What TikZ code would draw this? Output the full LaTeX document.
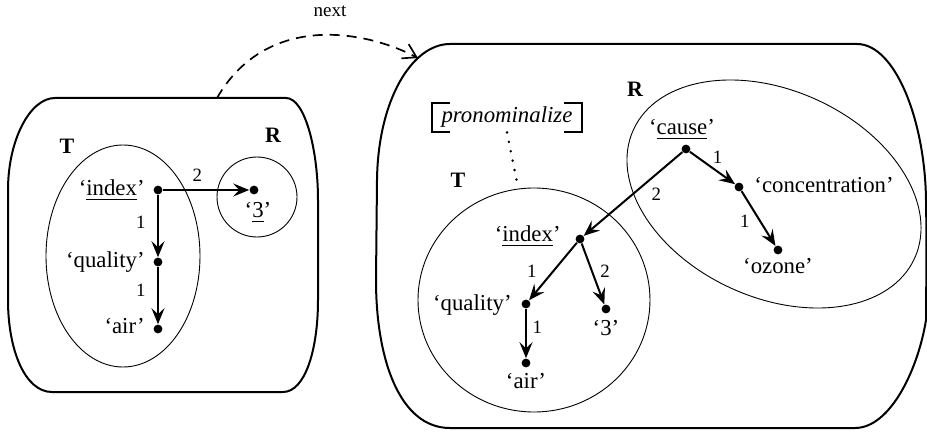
\documentclass[tikz,border=0pt]{standalone}
\usepackage{fontspec}
\setmainfont{Liberation Serif}
\usetikzlibrary{arrows.meta,shapes.geometric}
\tikzset{
  dot/.style={circle,fill,inner sep=0pt,minimum size=4.4pt},
  word/.style={inner sep=0pt,font=\fontsize{11.4}{13}\selectfont},
  elab/.style={inner sep=0.8pt,font=\fontsize{9.4}{10}\selectfont},
  setname/.style={inner sep=0pt,font=\fontsize{11}{12}\selectfont\bfseries},
  region/.style={draw,ellipse,line width=0.45pt,inner sep=0pt},
  box/.style={line width=1pt},
  arc/.style={line width=1pt,-{Stealth[length=8pt,width=6.5pt,inset=3pt]}},
  nextarc/.style={line width=0.85pt,dash pattern=on 5pt off 3.5pt,-{Straight Barb[length=6.5pt,width=8pt]}},
  bracket/.style={line width=1pt},
}

\begin{document}
\begin{tikzpicture}[x=0.5pt,y=-0.5pt]
  \useasboundingbox (0,0) rectangle (927,433);

  % first structure
  \draw[box] (55,98) -- (286,98) .. controls (305,98) and (318,150) .. (318,200) -- (318,300)
    .. controls (318,350) and (305,392) .. (283,392) -- (52,392)
    .. controls (25,392) and (8,350) .. (8,300) -- (8,190)
    .. controls (8,140) and (30,98) .. (55,98) -- cycle;
  \node[region,minimum width=77pt,minimum height=111pt] (lT) at (123,256) {};
  \node[region,minimum width=40pt,minimum height=40pt] (lR) at (257,197) {};
  \node[setname,anchor=base] (lTname) at (67,154) {T};
  \node[setname,anchor=base] (lRname) at (273,142) {R};

  \node[dot] (lidx) at (158,190) {};
  \node[dot] (lqual) at (158,262) {};
  \node[dot] (lair) at (158,329) {};
  \node[dot] (lthree) at (254,190) {};
  \node[word,anchor=base east] (lidxw) at (145,196) {`\underline{index}'};
  \node[word,anchor=base east] (lqualw) at (145,267) {`quality'};
  \node[word,anchor=base east] (lairw) at (145,333) {`air'};
  \node[word,anchor=base] (lthreew) at (258,218) {`\underline{3}'};

  \draw[arc] (lidx) -- node[elab,above=3pt,pos=0.4] (le2) {2} (lthree);
  \draw[arc] (lidx) -- node[elab,left=5pt,pos=0.44] (le1) {1} (lqual);
  \draw[arc] (lqual) -- node[elab,left=5pt,pos=0.41] (le3) {1} (lair);

  % second structure
  \draw[box] (450,44) -- (857,44) .. controls (895,44) and (925,120) .. (926,200)
    .. controls (927,260) and (926,290) .. (926,320)
    .. controls (918,370) and (890,428) .. (855,428) -- (450,428)
    .. controls (400,428) and (376,360) .. (376,280) -- (377,180)
    .. controls (378,100) and (412,44) .. (450,44) -- cycle;
  \node[region,minimum width=116pt,minimum height=112pt] (rT) at (534,300) {};
  \node[region,minimum width=154.6pt,minimum height=103.5pt,rotate=-24.6] (rR) at (774,194) {};
  \node[setname,anchor=base] (rTname) at (458,188) {T};
  \node[setname,anchor=base] (rRname) at (635,97) {R};

  \node[word,inner sep=0pt,minimum width=75pt,minimum height=14.5pt] (pron) at (507,117.5) {\itshape pronominalize};
  \draw[bracket] ([xshift=9pt]pron.north west) -- (pron.north west) -- (pron.south west) -- ([xshift=9pt]pron.south west);
  \draw[bracket] ([xshift=-9pt]pron.north east) -- (pron.north east) -- (pron.south east) -- ([xshift=-9pt]pron.south east);
  \draw[line width=1.4pt,line cap=round,dash pattern=on 0pt off 4.8pt] (pron.south) -- (rT.98);

  \node[dot] (rcause) at (686,149) {};
  \node[dot] (rconc) at (739,187) {};
  \node[dot] (rozone) at (778,250) {};
  \node[dot] (ridx) at (580,239) {};
  \node[dot] (rqual) at (526,304) {};
  \node[dot] (rthree) at (606,309) {};
  \node[dot] (rair) at (526,363) {};
  \node[word,anchor=base] (rcausew) at (682,135) {`\underline{cause}'};
  \node[word,anchor=base west] (rconcw) at (754,192) {`concentration'};
  \node[word,anchor=base] (rozonew) at (778,273) {`ozone'};
  \node[word,anchor=base east] (ridxw) at (561,242) {`\underline{index}'};
  \node[word,anchor=base east] (rqualw) at (512,310) {`quality'};
  \node[word,anchor=base] (rthreew) at (606,335) {`3'};
  \node[word,anchor=base] (rairw) at (526,388) {`air'};

  \draw[arc] (rcause) -- node[elab,right=8pt] (re1) {2} (ridx);
  \draw[arc] (rcause) -- node[elab,above right=0pt,pos=0.45] (re2) {1} (rconc);
  \draw[arc] (rconc) -- node[elab,left=4pt,pos=0.55] (re3) {1} (rozone);
  \draw[arc] (ridx) -- node[elab,left=7pt] (re4) {1} (rqual);
  \draw[arc] (ridx) -- node[elab,right=3pt,pos=0.45] (re5) {2} (rthree);
  \draw[arc] (rqual) -- node[elab,right=2pt,pos=0.37] (re6) {1} (rair);

  % next
  \coordinate (nextfrom) at (217,98);
  \coordinate (nextto) at (418,58);
  \draw[nextarc] (nextfrom) .. controls (265,15) and (360,28) .. (nextto);
  \node[elab,anchor=base,font=\fontsize{9.5}{11}\selectfont] (nextw) at (330,17) {next};
\end{tikzpicture}
\end{document}
